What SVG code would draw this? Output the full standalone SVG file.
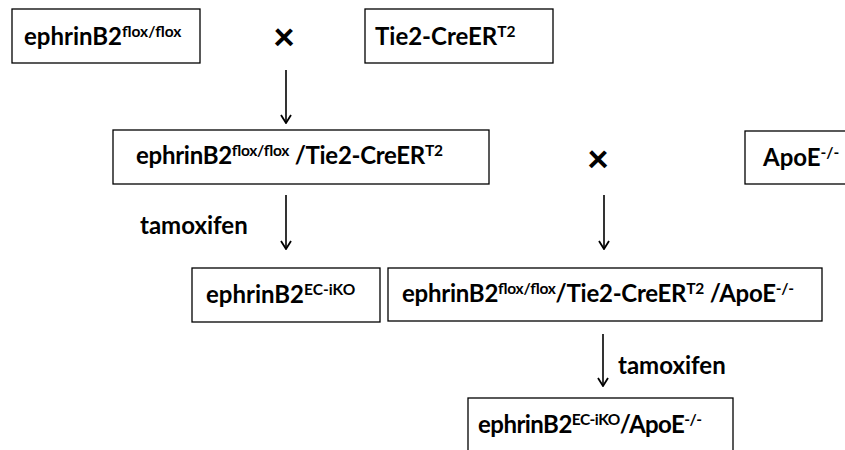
<svg xmlns="http://www.w3.org/2000/svg" width="845" height="450" viewBox="0 0 845 450">
<defs>
<marker id="ah" viewBox="0 0 12 12" refX="11" refY="6" markerWidth="12" markerHeight="12" markerUnits="userSpaceOnUse" orient="auto">
<path d="M3,1 L11,6 L3,11" fill="none" stroke="#000" stroke-width="1.8"/>
</marker>
<style>
.box{fill:#fff;stroke:#000;stroke-width:1.3}
.t{font-family:Lato,"Open Sans","Liberation Sans",sans-serif;font-weight:bold;font-size:24px;fill:#000}
.s{font-size:15.5px}
.x{font-family:Lato,"Liberation Sans",sans-serif;font-weight:900;font-size:38px;fill:#000}
.arr{stroke:#000;stroke-width:1.6;fill:none;marker-end:url(#ah)}
</style>
</defs>
<rect width="845" height="450" fill="#fff"/>
<g id="n1">
<rect class="box" x="12" y="9" width="188" height="54"/>
<text class="t" x="24" y="45">ephrinB2<tspan class="s" dy="-8">flox/flox</tspan></text>
</g>
<g id="cross1"><text class="x" x="284" y="50" text-anchor="middle">×</text></g>
<g id="n2">
<rect class="box" x="365" y="9" width="188" height="54"/>
<text class="t" x="375" y="45">Tie2-CreER<tspan class="s" dy="-8">T2</tspan></text>
</g>
<g id="n3">
<rect class="box" x="113" y="130" width="376" height="54"/>
<text class="t" x="136" y="164" textLength="307">ephrinB2<tspan class="s" dy="-8">flox/flox</tspan><tspan dy="8"> /Tie2-CreER</tspan><tspan class="s" dy="-8">T2</tspan></text>
</g>
<g id="cross2"><text class="x" x="598" y="172" text-anchor="middle">×</text></g>
<g id="n4">
<rect class="box" x="745" y="131" width="110" height="53"/>
<text class="t" x="763" y="166">ApoE<tspan class="s" dy="-8">-/-</tspan></text>
</g>
<g id="lbl1"><text class="t" x="140" y="234">tamoxifen</text></g>
<g id="n5">
<rect class="box" x="192" y="268" width="188" height="54"/>
<text class="t" x="206" y="303">ephrinB2<tspan class="s" dy="-8">EC-iKO</tspan></text>
</g>
<g id="n6">
<rect class="box" x="388" y="268" width="434" height="53"/>
<text class="t" x="402" y="302" textLength="392">ephrinB2<tspan class="s" dy="-8">flox/flox</tspan><tspan dy="8">/Tie2-CreER</tspan><tspan class="s" dy="-8">T2</tspan><tspan dy="8"> /ApoE</tspan><tspan class="s" dy="-8">-/-</tspan></text>
</g>
<g id="lbl2"><text class="t" x="618" y="374">tamoxifen</text></g>
<g id="n7">
<rect class="box" x="468" y="398" width="265" height="70"/>
<text class="t" x="478" y="433" textLength="224">ephrinB2<tspan class="s" dy="-8">EC-iKO</tspan><tspan dy="8">/ApoE</tspan><tspan class="s" dy="-8">-/-</tspan></text>
</g>
<g id="connectors">
<line class="arr" x1="286" y1="70" x2="286" y2="123"/>
<line class="arr" x1="286" y1="195" x2="286" y2="249"/>
<line class="arr" x1="604" y1="195" x2="604" y2="249"/>
<line class="arr" x1="603" y1="334" x2="603" y2="386"/>
</g>
</svg>
